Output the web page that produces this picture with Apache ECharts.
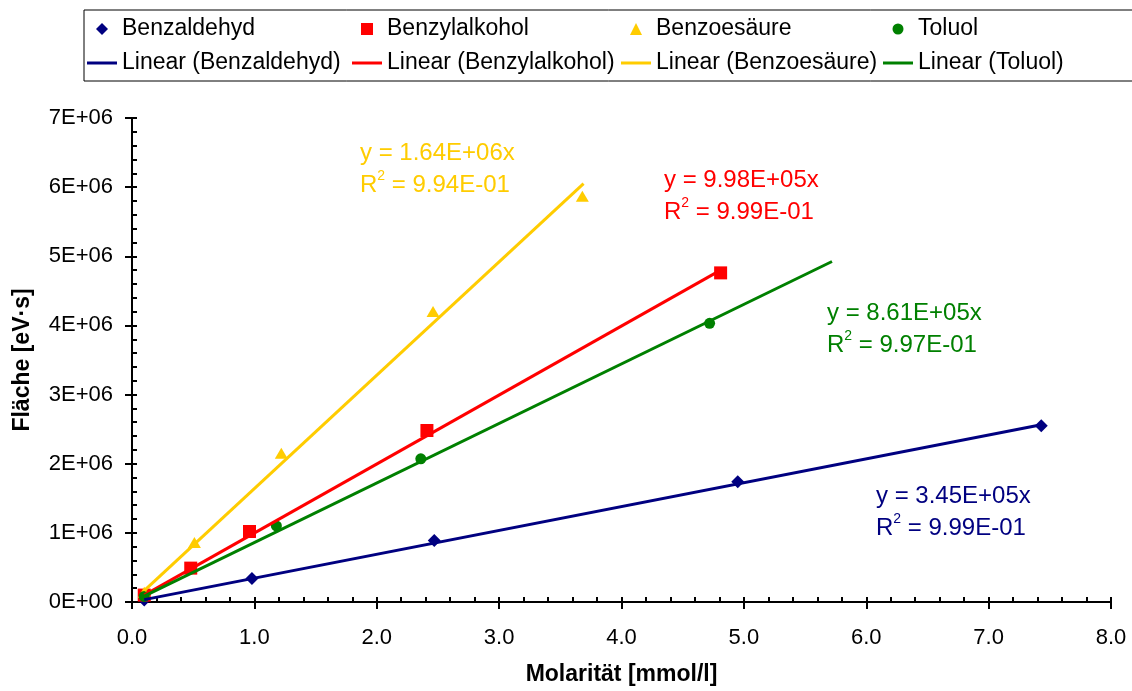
<html>
<head>
<meta charset="UTF-8">
<script src="https://cdn.jsdelivr.net/npm/echarts@6/dist/echarts.min.js"></script>
</head>
<body style="margin:0;background:#fff">
<div id="main" style="width:1132px;height:691px"></div>
<script>
    // Messwerte (Molarität in mmol/l, Fläche in eV·s)
    var seriesNames = ['Benzaldehyd', 'Benzylalkohol', 'Benzoesäure', 'Toluol'];
    var benzaldehydX = [0.1, 0.98, 2.47, 4.95, 7.43];
    var benzaldehydY = [0.03e6, 0.34e6, 0.89e6, 1.74e6, 2.55e6];
    var benzylalkoholX = [0.1, 0.48, 0.96, 2.41, 4.81];
    var benzylalkoholY = [0.10e6, 0.49e6, 1.02e6, 2.48e6, 4.76e6];
    var benzoesaeureX = [0.1, 0.51, 1.22, 2.46, 3.68];
    var benzoesaeureY = [0.14e6, 0.86e6, 2.15e6, 4.20e6, 5.87e6];
    var toluolX = [0.1, 1.18, 2.36, 4.72];
    var toluolY = [0.08e6, 1.10e6, 2.07e6, 4.03e6];

    // Trendlinien (durch den Ursprung) und ihre Beschriftung
    var trendSlopes = [3.45e5, 9.98e5, 1.64e6, 8.61e5];
    var trendStartX = [0.1, 0.1, 0.1, 0.1];
    var trendEndX = [7.43, 4.81, 3.69, 5.72];
    var equationTexts = ['y = 3.45E+05x', 'y = 9.98E+05x', 'y = 1.64E+06x', 'y = 8.61E+05x'];
    var r2Texts = ['9.99E-01', '9.99E-01', '9.94E-01', '9.97E-01'];

    var colors = ['#000080', '#ff0000', '#ffcc00', '#008000'];
    var symbols = ['diamond', 'rect', 'triangle', 'circle'];
    var symbolSizes = [13, 13, [13, 11], 11];
    var font = "'Liberation Sans', Arial, sans-serif";

    var xs = [benzaldehydX, benzylalkoholX, benzoesaeureX, toluolX];
    var ys = [benzaldehydY, benzylalkoholY, benzoesaeureY, toluolY];

    function expFormat(v) {
        if (v === 0) return '0E+00';
        var e = Math.floor(Math.log10(v) + 1e-9);
        var m = Math.round(v / Math.pow(10, e));
        return m + 'E+' + (e < 10 ? '0' + e : e);
    }

    var series = [];
    for (var i = 0; i < 4; i++) {
        var pts = [];
        for (var j = 0; j < xs[i].length; j++) {
            pts.push([xs[i][j], ys[i][j]]);
        }
        series.push({
            name: seriesNames[i],
            type: 'scatter',
            color: colors[i],
            symbol: symbols[i],
            symbolSize: symbolSizes[i],
            itemStyle: {opacity: 1},
            z: 3,
            data: pts
        });
    }
    for (var i = 0; i < 4; i++) {
        series.push({
            name: 'Linear (' + seriesNames[i] + ')',
            type: 'line',
            color: colors[i],
            symbol: 'none',
            lineStyle: {width: 3, color: colors[i]},
            z: 4,
            data: [
                [trendStartX[i], trendSlopes[i] * trendStartX[i]],
                [trendEndX[i], trendSlopes[i] * trendEndX[i]]
            ]
        });
    }

    // Legende: 4 Spalten x 2 Zeilen
    var legendCols = [87, 352, 621, 883];
    var legendIconSize = [12, 12, 12, 11];
    var legends = [];
    for (var i = 0; i < 4; i++) {
        var sz = legendIconSize[i];
        legends.push({
            data: [seriesNames[i]],
            left: legendCols[i] + 15 - sz / 2,
            top: 17,
            padding: 0,
            icon: symbols[i],
            itemWidth: sz,
            itemHeight: sz,
            selectedMode: false,
            itemStyle: {opacity: 1},
            textStyle: {fontFamily: font, fontSize: 23, color: '#000', lineHeight: 24, padding: [0, 0, 0, 15 - sz / 2]}
        });
        legends.push({
            data: ['Linear (' + seriesNames[i] + ')'],
            left: legendCols[i],
            top: 51,
            padding: 0,
            icon: 'rect',
            itemWidth: 30,
            itemHeight: 3,
            selectedMode: false,
            textStyle: {fontFamily: font, fontSize: 23, color: '#000', lineHeight: 24}
        });
    }

    // Gleichungen an den Trendlinien
    var labelPos = [[876, 480], [664, 164], [360, 137], [827, 297]];
    var graphics = [{
        type: 'rect',
        shape: {x: 84, y: 10, width: 1070, height: 71},
        style: {fill: 'none', stroke: '#000', lineWidth: 1},
        silent: true
    }];
    for (var i = 0; i < 4; i++) {
        graphics.push({
            type: 'text',
            x: labelPos[i][0],
            y: labelPos[i][1],
            silent: true,
            style: {
                text: '{a|' + equationTexts[i] + '}\n{a|R}{s|2}{a| = ' + r2Texts[i] + '}',
                rich: {
                    a: {fontFamily: font, fontSize: 24, lineHeight: 32, fill: colors[i]},
                    s: {fontFamily: font, fontSize: 14, lineHeight: 20, verticalAlign: 'top', fill: colors[i]}
                }
            }
        });
    }

    var axisFont = {fontFamily: font, fontSize: 22, color: '#000'};
    var nameFont = {fontFamily: font, fontSize: 23, fontWeight: 'bold', color: '#000'};

    var option = {
        animation: false,
        backgroundColor: '#fff',
        grid: {left: 132, right: 21, top: 118, bottom: 89, outerBoundsMode: 'none'},
        legend: legends,
        graphic: graphics,
        xAxis: [{
            type: 'value',
            min: 0,
            max: 8,
            interval: 1,
            position: 'bottom',
            name: 'Molarität [mmol/l]',
            nameLocation: 'middle',
            nameGap: 61,
            nameTextStyle: nameFont,
            axisLine: {show: true, lineStyle: {color: '#000', width: 2}},
            axisTick: {show: true, inside: true, length: 5, lineStyle: {color: '#000', width: 2}},
            minorTick: {show: true, splitNumber: 5, length: 5, lineStyle: {color: '#000', width: 2}},
            axisLabel: Object.assign({margin: 25, formatter: function (v) { return v.toFixed(1); }}, axisFont),
            splitLine: {show: false}
        }, {
            type: 'value',
            min: 0,
            max: 8,
            interval: 1,
            position: 'bottom',
            offset: 0,
            axisLine: {show: false},
            axisTick: {show: true, inside: false, length: 7, lineStyle: {color: '#000', width: 2}},
            axisLabel: {show: false},
            splitLine: {show: false}
        }],
        yAxis: [{
            type: 'value',
            min: 0,
            max: 7e6,
            interval: 1e6,
            position: 'left',
            name: 'Fläche [eV·s]',
            nameLocation: 'middle',
            nameGap: 98,
            nameTextStyle: nameFont,
            axisLine: {show: true, lineStyle: {color: '#000', width: 2}},
            axisTick: {show: true, inside: true, length: 5, lineStyle: {color: '#000', width: 2}},
            minorTick: {show: true, splitNumber: 5, length: 5, lineStyle: {color: '#000', width: 2}},
            axisLabel: Object.assign({margin: 19, formatter: expFormat}, axisFont),
            splitLine: {show: false}
        }, {
            type: 'value',
            min: 0,
            max: 7e6,
            interval: 1e6,
            position: 'left',
            offset: 0,
            axisLine: {show: false},
            axisTick: {show: true, inside: false, length: 7, lineStyle: {color: '#000', width: 2}},
            axisLabel: {show: false},
            splitLine: {show: false}
        }],
        series: series
    };

    var chart = echarts.init(document.getElementById('main'));
    chart.setOption(option);
</script>
</body>
</html>
